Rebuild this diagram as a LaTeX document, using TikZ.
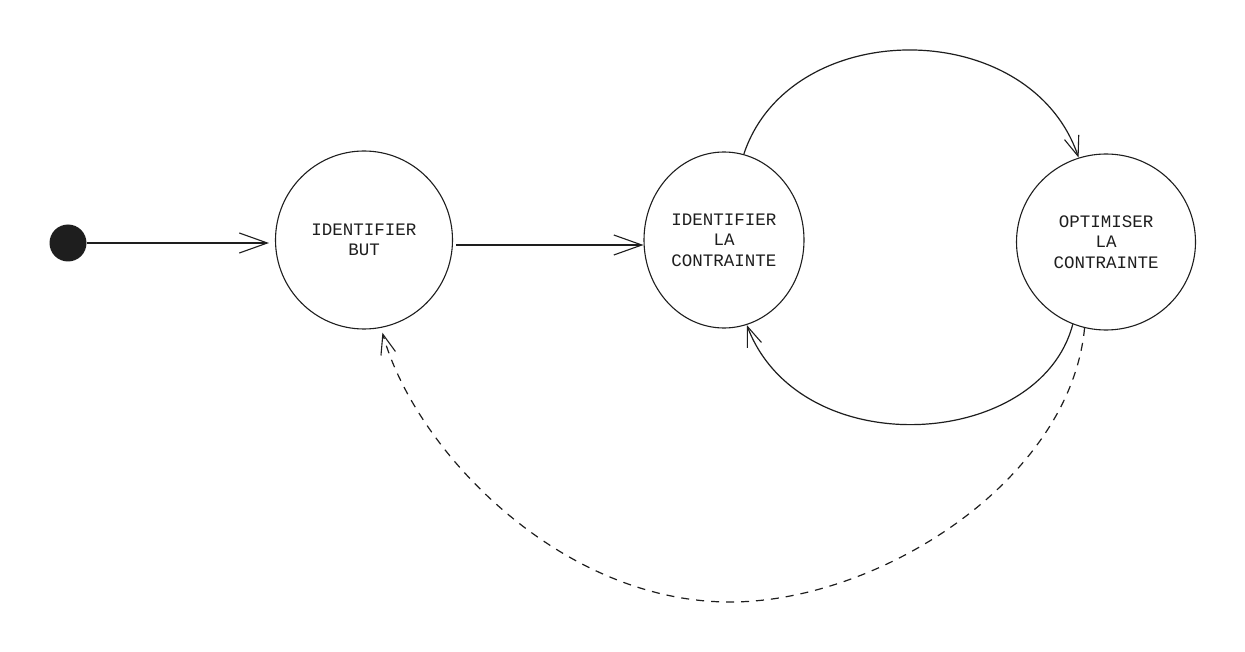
\documentclass[tikz,border=0pt]{standalone}
\usepackage{fontspec}
\newfontfamily\sketchfont{Liberation Mono}
\usetikzlibrary{arrows.meta,shapes.geometric}
\definecolor{ink}{HTML}{1E1E1E}
\begin{document}
\begin{tikzpicture}[x=1pt,y=-1pt,
  state/.style={draw=ink,line width=1.1pt,ellipse,inner sep=0pt,
    align=center,font=\sketchfont\fontsize{17.5}{20.5}\selectfont,text=ink},
  conn/.style={draw=ink,line width=1.2pt},
  bigtip/.style={-{Straight Barb[length=28pt,width=20pt,line width=1.1pt]}},
  smalltip/.style={-{Straight Barb[length=20pt,width=15pt,line width=1.1pt]}},
  dashedconn/.style={draw=ink,line width=1.2pt,dash pattern=on 8pt off 7pt}]
\useasboundingbox (0,0) rectangle (1245,652);
\fill[white] (0,0) rectangle (1245,652);
\node[circle,fill=ink,minimum size=37pt,inner sep=0pt] (dot) at (68,243) {};
\node[state,minimum width=177pt,minimum height=178pt] (c1) at (364,240) {IDENTIFIER\\BUT};
\node[state,minimum width=160pt,minimum height=176pt] (c2) at (724,240) {IDENTIFIER\\LA\\CONTRAINTE};
\node[state,minimum width=179pt,minimum height=176pt] (c3) at (1106,242) {OPTIMISER\\LA\\CONTRAINTE};
\draw[conn,bigtip,shorten >=6pt] (dot.east) -- (dot.east -| c1.west);
\draw[conn,bigtip] ([yshift=-5pt]c1.east) ++(3,0) -- ([yshift=-5pt]c2.west);
\draw[conn,smalltip] (c2.77) .. controls (790,15) and (1030,15) .. (c3.108);
\draw[conn,smalltip] (c3.248) .. controls (1040,450) and (800,465) .. (c2.285);
\coordinate (low) at (730,602);
\draw[dashedconn,smalltip,shorten >=5pt] (c3.256) .. controls (1070,480) and (880,602) .. (low)
  .. controls (560,602) and (415,450) .. (c1.281);
\end{tikzpicture}
\end{document}
